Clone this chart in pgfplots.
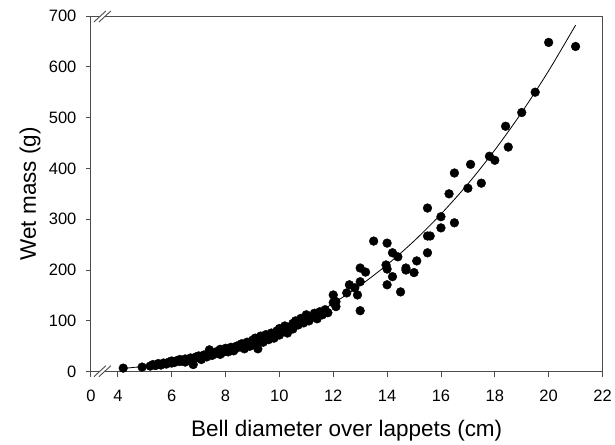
\documentclass[border=0pt]{standalone}
\usepackage{pgfplots}
\pgfplotsset{compat=1.18}
\usepackage{fontspec}
\setmainfont{Liberation Sans}
\begin{document}
\begin{tikzpicture}
\begin{axis}[
  name=ax,
  scale only axis,
  width=512pt, height=356pt,
  xmin=3, xmax=22, ymin=0, ymax=700,
  xtick={3,4,6,8,10,12,14,16,18,20,22},
  xticklabels={0,4,6,8,10,12,14,16,18,20,22},
  ytick={0,100,...,700},
  tick align=outside,
  xtick pos=bottom, ytick pos=left,
  major tick length=5pt,
  axis line style={black!70, line width=0.9pt},
  every tick/.style={black!70, line width=0.9pt},
  tick label style={font=\fontsize{16.5}{18}\selectfont},
  xticklabel style={yshift=-10pt},
  yticklabel style={xshift=-6pt},
  /pgf/number format/assume math mode=true,
  xlabel={Bell diameter over lappets (cm)},
  ylabel={Wet mass (g)},
  label style={font=\fontsize{22.5}{25}\selectfont},
  xlabel style={at={(axis description cs:0.5,0)}, anchor=base, yshift=-65pt},
  ylabel style={at={(axis description cs:0,0.5)}, anchor=center, yshift=61pt},
  clip=false,
]
\addplot[only marks, mark=*, mark size=4.4pt, black] coordinates {
(4.2,7) (4.9,9) (5.2,11) (5.3,14) (5.4,12) (5.5,16) (5.6,13) (5.7,17) (5.8,15) (5.9,19)
(6.0,17) (6.0,21) (6.1,18) (6.2,22) (6.3,20) (6.3,24) (6.4,21) (6.5,25) (6.5,19) (6.6,23)
(6.7,27) (6.8,14) (6.8,25) (6.9,29) (7.0,27) (7.0,31) (7.1,24) (7.2,33) (7.3,29) (7.4,36)
(7.4,43) (7.5,32) (7.6,38) (7.6,35) (7.7,40) (7.8,34) (7.8,44) (7.9,38) (8.0,42) (8.0,46)
(8.1,39) (8.2,48) (8.2,44) (8.3,41) (8.4,50) (8.4,46) (8.5,52) (8.6,48) (8.6,55) (8.7,45)
(8.8,53) (8.8,58) (8.9,50) (9.0,56) (9.0,62) (9.1,53) (9.1,66) (9.2,60) (9.2,45) (9.3,64)
(9.3,70) (9.4,58) (9.5,67) (9.5,73) (9.6,63) (9.7,70) (9.7,76) (9.8,66) (9.9,74) (9.9,80)
(10.0,72) (10.0,85) (10.1,78) (10.2,82) (10.2,90) (10.3,76) (10.4,88) (10.5,95) (10.5,84) (10.6,100)
(10.7,92) (10.8,98) (10.8,105) (10.9,96) (11.0,102) (11.0,112) (11.1,100) (11.2,108) (11.3,115) (11.4,104)
(11.5,118) (11.6,112) (11.7,122) (11.8,116) (12.0,136) (12.0,151) (12.1,138) (12.1,128) (12.5,155) (12.6,171)
(12.8,165) (12.9,151) (13.0,120) (13.0,177) (13.0,204) (13.2,196) (13.5,257) (14.0,253) (13.96,210) (14.0,202)
(14.2,234) (14.4,226) (14.2,187) (14.0,171) (14.5,157) (14.7,200) (15.0,195) (14.7,204) (15.1,218) (15.5,234)
(15.5,267) (15.6,267) (15.5,322) (16.0,305) (16.0,283) (16.5,293) (16.3,350) (16.5,391) (17.0,361) (17.5,371)
(17.1,408) (17.8,424) (18.0,416) (18.4,483) (18.5,442) (19.0,510) (19.5,550) (20.0,648) (21.0,640)
};
\addplot[black, line width=0.8pt, smooth] coordinates {
(4.2,6.4) (5,10.6) (5.5,14.0) (6,18.0) (6.5,22.7) (7,28.2) (7.5,34.4) (8,41.5) (8.5,49.5)
(9,58.4) (9.5,68.3) (10,79.3) (10.5,91.4) (11,104.5) (11.5,118.9) (12,134.5) (13,169.7)
(14,210.5) (15,257.1) (16,310.1) (17,369.4) (18,436.2) (19,510.3) (20,592.2) (21,682)
};
\end{axis}
% axis break marks (bottom and top of the frame)
\fill[white] ([xshift=3pt,yshift=-5pt]ax.south west) -- ([xshift=15pt,yshift=6pt]ax.south west)
   -- ([xshift=20pt,yshift=6pt]ax.south west) -- ([xshift=8pt,yshift=-5pt]ax.south west) -- cycle;
\draw[black!70, line width=0.9pt] ([xshift=3pt,yshift=-5pt]ax.south west) -- ([xshift=15pt,yshift=6pt]ax.south west);
\draw[black!70, line width=0.9pt] ([xshift=8pt,yshift=-5pt]ax.south west) -- ([xshift=20pt,yshift=6pt]ax.south west);
\fill[white] ([xshift=3pt,yshift=-6pt]ax.north west) -- ([xshift=15pt,yshift=5pt]ax.north west)
   -- ([xshift=20pt,yshift=5pt]ax.north west) -- ([xshift=8pt,yshift=-6pt]ax.north west) -- cycle;
\draw[black!70, line width=0.9pt] ([xshift=3pt,yshift=-6pt]ax.north west) -- ([xshift=15pt,yshift=5pt]ax.north west);
\draw[black!70, line width=0.9pt] ([xshift=8pt,yshift=-6pt]ax.north west) -- ([xshift=20pt,yshift=5pt]ax.north west);
\path ([xshift=-91pt,yshift=-72pt]ax.south west) rectangle ([xshift=12pt,yshift=16pt]ax.north east);
\end{tikzpicture}
\end{document}
